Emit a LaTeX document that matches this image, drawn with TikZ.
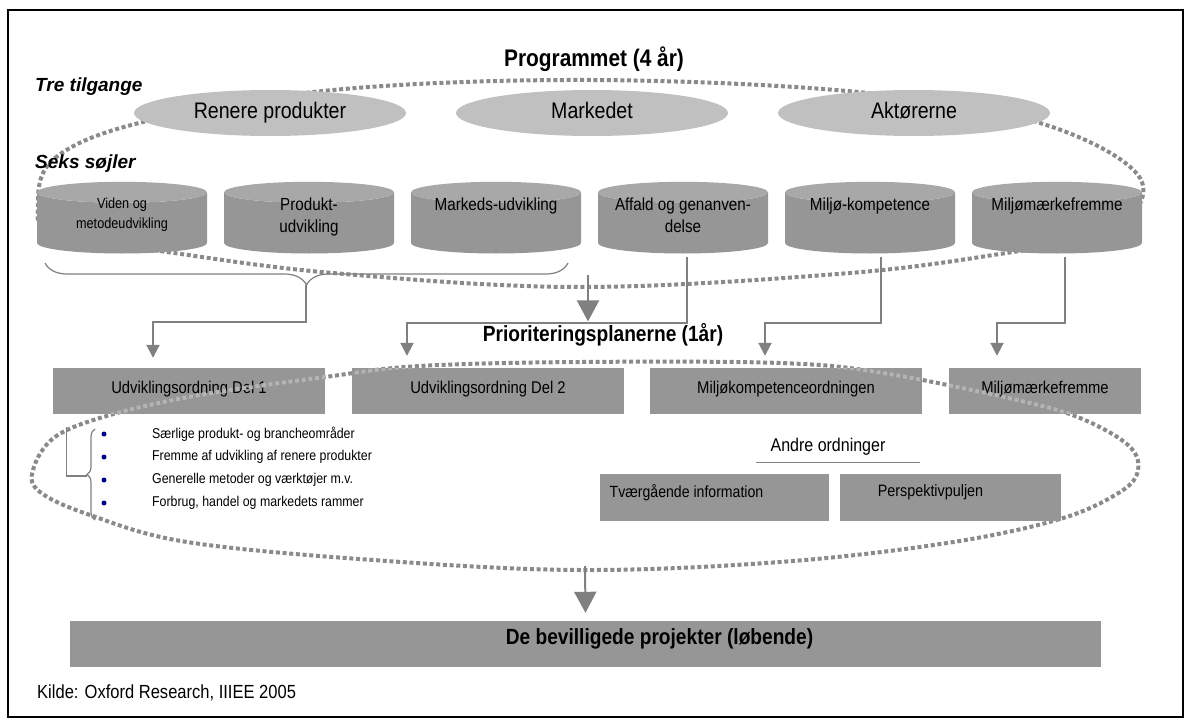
\documentclass[tikz,border=0pt]{standalone}
\usepackage{fontspec}
\setmainfont{Liberation Sans}[FakeStretch=0.87]
\newfontfamily\plainsans{Liberation Sans}
\usetikzlibrary{shapes.geometric,arrows.meta,decorations.pathreplacing}

\definecolor{ovalgray}{HTML}{C0C0C0}
\definecolor{boxgray}{HTML}{969696}
\definecolor{pillartop}{HTML}{A8A8A8}
\definecolor{linegray}{HTML}{808080}
\definecolor{dotgray}{HTML}{8A8A8A}
\definecolor{dotlight}{HTML}{B4B4B4}
\definecolor{bulletblue}{HTML}{000080}

\newcommand{\pillartext}[1]{\parbox[c][40pt][t]{150pt}{\vspace*{-5pt}\centering #1}}

\begin{document}
\begin{tikzpicture}[x=1pt, y=-1pt,
  tilgang/.style={ellipse, fill=ovalgray, minimum width=272pt, minimum height=46pt,
    inner sep=0pt, text height=16pt, text depth=5pt, font=\fontsize{22.5}{27}\selectfont},
  pillar/.style={cylinder, shape border rotate=90, aspect=0.14, minimum width=170pt,
    minimum height=70pt, inner sep=0pt, cylinder uses custom fill,
    cylinder body fill=boxgray, cylinder end fill=pillartop,
    font=\fontsize{17.5}{22}\selectfont},
  ordning/.style={fill=boxgray, minimum height=46pt, inner sep=0pt, text depth=8pt,
    font=\fontsize{17}{20}\selectfont},
  heading/.style={anchor=west, inner sep=0pt,
    font=\plainsans\bfseries\itshape\fontsize{19}{23}\selectfont},
  overskrift/.style={inner sep=2pt, font=\bfseries\fontsize{22}{26}\selectfont},
  conn/.style={draw=linegray, line width=2pt, -{Triangle[width=13pt,length=13pt]}},
  bigconn/.style={draw=linegray, line width=2pt, -{Triangle[width=22pt,length=21pt]}},
  dotloop/.style={draw=dotgray, line width=4pt, dash pattern=on 4pt off 2.7pt},
  tynd/.style={draw=linegray, line width=1.2pt},
  punkt/.style={anchor=west, inner sep=0pt, font=\fontsize{14.2}{17}\selectfont}]

  \useasboundingbox (0,0) rectangle (1191,725);
  \draw[line width=1.6pt] (8,10) rectangle (1183,717);

  % --- programmet: tilgange og soejler ---
  \draw[dotloop] plot[smooth cycle, tension=0.6] coordinates {(38,205) (55,158) (143,122)
    (333,90) (590,80) (858,92) (1040,123) (1140,178) (1110,235) (1013,252) (850,273)
    (580,287) (333,273) (167,252) (55,235)};

  \node[overskrift, font=\bfseries\fontsize{24}{28}\selectfont] (program) at (594,59) {Programmet (4 år)};
  \node[heading] (tre) at (35,87) {Tre tilgange};
  \node[heading] (seks) at (35,164) {Seks søjler};

  \foreach \navn/\x/\tekst in {renere/270/Renere produkter, marked/592/Markedet, aktor/914/Aktørerne}
    \node[tilgang] (\navn) at (\x,113) {\tekst};

  \foreach \i/\x/\tekst in {1/122/{\fontsize{14.6}{20}\selectfont Viden og\\metodeudvikling},
      2/309/{Produkt-\\udvikling}, 3/496/{Markeds-udvikling},
      4/683/{Affald og genanven-\\delse}, 5/870/{Miljø-kompetence}, 6/1057/{Miljømærkefremme}}
    \node[pillar] (c\i) at (\x,223) {\pillartext{\tekst}};

  % --- prioriteringsplanerne ---
  \node[overskrift] (prio) at (603,335) {Prioriteringsplanerne (1år)};

  \node[ordning, minimum width=272pt] (u1) at (189,391) {Udviklingsordning Del 1};
  \node[ordning, minimum width=272pt] (u2) at (488,391) {Udviklingsordning Del 2};
  \node[ordning, minimum width=272pt] (u3) at (786,391) {Miljøkompetenceordningen};
  \node[ordning, minimum width=192pt] (u4) at (1045,391) {Miljømærkefremme};

  \draw[tynd, decorate, decoration={brace, mirror, amplitude=22pt}] (45,263) -- (568,263);
  \coordinate (bracetip) at (306,285);
  \draw[conn] (bracetip) -- ++(0,37) -| ([xshift=-36pt,yshift=10pt]u1.north);
  \draw[conn] ([xshift=4pt,yshift=-3pt]c4.south) -- ++(0,66) -| ([xshift=-81pt,yshift=12pt]u2.north);
  \draw[conn] ([xshift=11pt,yshift=-3pt]c5.south) -- ++(0,66) -| ([xshift=-21pt,yshift=12pt]u3.north);
  \draw[conn] ([xshift=8pt,yshift=-3pt]c6.south) -- ++(0,66) -| ([xshift=-48pt,yshift=12pt]u4.north);
  \coordinate (prioin) at (588,275);
  \draw[bigconn] (prioin) -- (prioin |- prio.north);

  \path[save path=\sloejfe] plot[smooth cycle, tension=0.6] coordinates {(33,470) (55,437)
    (110,415) (200,395) (325,377) (420,366) (580,362) (780,363) (883,373) (1017,400)
    (1080,418) (1128,445) (1138,470) (1120,492) (1060,519) (947,543) (780,562) (580,570)
    (373,560) (187,542) (90,515) (40,492)};
  \draw[dotloop, use path=\sloejfe];
  \begin{scope}
    \clip (u1.south west) rectangle (u1.north east) (u2.south west) rectangle (u2.north east)
      (u3.south west) rectangle (u3.north east) (u4.south west) rectangle (u4.north east);
    \draw[dotloop, draw=dotlight, use path=\sloejfe];
  \end{scope}

  % underpunkter til del 1
  \coordinate (listtip) at (87,476);
  \draw[tynd] (listtip) -| ([xshift=14pt,yshift=-13pt]u1.south west);
  \draw[tynd, decorate, decoration={brace, amplitude=8pt}] (95,520) -- (95,429);
  \foreach \tekst [count=\i] in {Særlige produkt- og brancheområder,
      Fremme af udvikling af renere produkter, Generelle metoder og værktøjer m.v.,
      {Forbrug, handel og markedets rammer}} {
    \fill[bulletblue] (104,411+23*\i) circle (2.5pt);
    \node[punkt] (p\i) at (152,411+23*\i) {\tekst};
  }

  % andre ordninger
  \node[inner sep=0pt, font=\fontsize{18.4}{22}\selectfont] (andre) at (828,447) {Andre ordninger};
  \draw[tynd] ([xshift=-14pt,yshift=-7pt]andre.south west) -- ([xshift=34pt,yshift=-7pt]andre.south east);
  \node[ordning, minimum width=229pt, minimum height=47pt, text depth=14pt,
    font=\fontsize{16.2}{20}\selectfont] (tvaer) at (714.5,497.5) {Tværgående information\hspace*{56pt}};
  \node[ordning, minimum width=221pt, minimum height=47pt, text depth=14pt,
    font=\fontsize{16.5}{20}\selectfont] (perspektiv) at (950.5,497.5) {Perspektivpuljen\hspace*{40pt}};

  % --- projekterne ---
  \node[ordning, minimum width=1031pt, text depth=14pt, font=\bfseries\fontsize{22}{26}\selectfont]
    (bevilget) at (585.5,644) {\hspace*{148pt}De bevilligede projekter (løbende)};
  \coordinate (udfald) at (585,566);
  \draw[bigconn] (udfald) -- ([yshift=8pt]bevilget.north);

  \node[anchor=west, inner sep=0pt, font=\fontsize{19}{23}\selectfont] (kilde) at (37,693)
    {Kilde: Oxford Research, IIIEE 2005};
\end{tikzpicture}
\end{document}
